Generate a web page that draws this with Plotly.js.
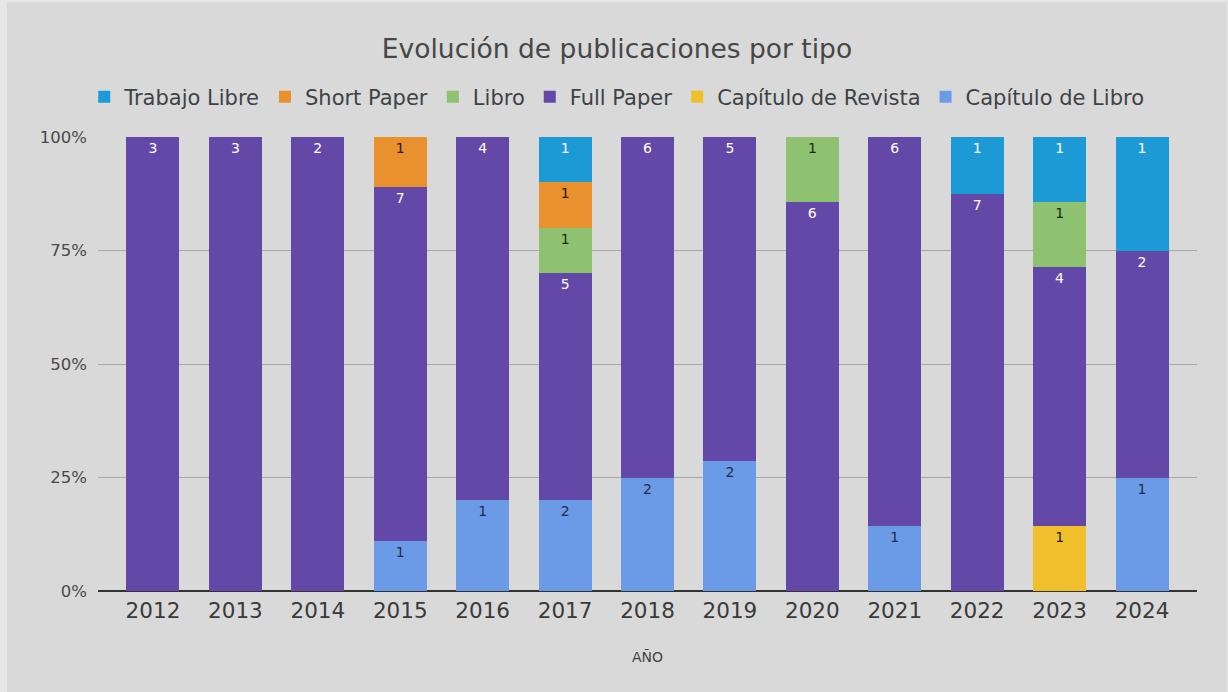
<!DOCTYPE html>
<html>
<head>
<meta charset="utf-8">
<script src="https://cdn.plot.ly/plotly-3.0.1.min.js"></script>
<style>
  html, body { margin: 0; padding: 0; background: #e6e6e6; }
  #chart { position: absolute; left: 7px; top: 2px; width: 1220px; height: 690px; }
</style>
</head>
<body>
<div id="chart"></div>
<script>
const years = ['2012','2013','2014','2015','2016','2017','2018','2019','2020','2021','2022','2023','2024'];
const capituloLibro   = [null, null, null, 1, 1, 2, 2, 2, null, 1, null, null, 1];
const capituloRevista = [null, null, null, null, null, null, null, null, null, null, null, 1, null];
const fullPaper       = [3, 3, 2, 7, 4, 5, 6, 5, 6, 6, 7, 4, 2];
const libro           = [null, null, null, null, null, 1, null, null, 1, null, null, 1, null];
const shortPaper      = [null, null, null, 1, null, 1, null, null, null, null, null, null, null];
const trabajoLibre    = [null, null, null, null, null, 1, null, null, null, null, 1, 1, 1];
const yTicks = [0, 25, 50, 75, 100];

const series = [
  {name: 'Capítulo de Libro',   y: capituloLibro,   color: '#6b9be6', txt: '#1f2d4a'},
  {name: 'Capítulo de Revista', y: capituloRevista, color: '#f0c02c', txt: '#222222'},
  {name: 'Full Paper',          y: fullPaper,       color: '#6448a8', txt: '#ffffff'},
  {name: 'Libro',               y: libro,           color: '#8ec270', txt: '#1a2a10'},
  {name: 'Short Paper',         y: shortPaper,      color: '#e8912e', txt: '#2a1a05'},
  {name: 'Trabajo Libre',       y: trabajoLibre,    color: '#1c9ad6', txt: '#ffffff'}
];

const FONT = 'DejaVu Sans, sans-serif';

const traces = series.map(s => ({
  type: 'bar',
  name: s.name,
  x: years,
  y: s.y,
  text: s.y.map(v => v == null ? '' : String(v)),
  textposition: 'inside',
  insidetextanchor: 'end',
  textangle: 0,
  insidetextfont: {family: FONT, size: 14, color: s.txt},
  marker: {color: s.color, line: {width: 0}},
  hoverinfo: 'x+y+name'
}));

const layout = {
  barmode: 'stack',
  barnorm: 'percent',
  bargap: 0.357,
  paper_bgcolor: '#d9d9d9',
  plot_bgcolor: '#d9d9d9',
  font: {family: FONT, color: '#444444'},
  margin: {l: 91, r: 30, t: 135, b: 101, pad: 0},
  title: {
    text: 'Evolución de publicaciones por tipo',
    font: {family: FONT, size: 26.5, color: '#474747'},
    x: 0.5, xanchor: 'center',
    y: 0.933, yanchor: 'middle'
  },
  showlegend: true,
  legend: {
    orientation: 'h',
    traceorder: 'reversed',
    x: 0.472, xanchor: 'center',
    y: 1.088, yanchor: 'middle',
    font: {family: FONT, size: 21, color: '#3e4246'},
    itemwidth: 30,
    bgcolor: 'rgba(0,0,0,0)'
  },
  xaxis: {
    type: 'category',
    range: [-0.667, 12.667],
    tickfont: {family: FONT, size: 21.5, color: '#3a3a3a'},
    ticks: '',
    ticklabelstandoff: 4,
    showgrid: false,
    showline: false,
    zeroline: false,
    title: {text: 'AÑO', font: {family: FONT, size: 14, color: '#444444'}, standoff: 30}
  },
  yaxis: {
    range: [0, 100],
    tickvals: yTicks,
    ticktext: yTicks.map(v => v + '%'),
    tickfont: {family: FONT, size: 16.5, color: '#4a4a4a'},
    ticks: '',
    showgrid: true,
    gridcolor: '#a8a8a8',
    gridwidth: 1,
    zeroline: true,
    zerolinecolor: '#333333',
    zerolinewidth: 1.5,
    ticklabelstandoff: 10
  }
};

Plotly.newPlot('chart', traces, layout, {displayModeBar: false, responsive: false});
</script>
</body>
</html>
